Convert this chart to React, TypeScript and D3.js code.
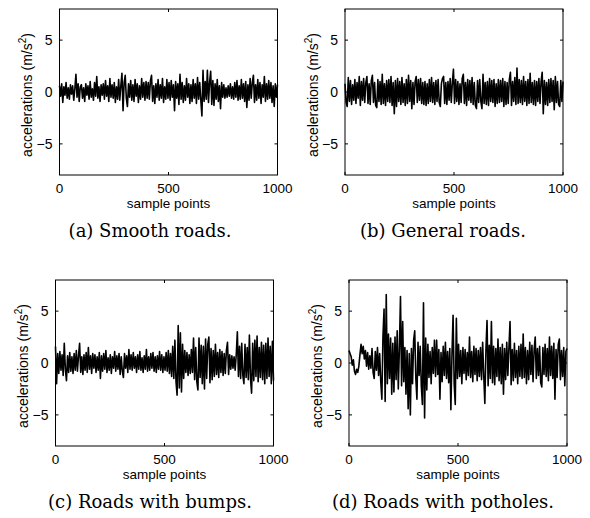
import React from "react";
import * as d3 from "d3";

// acceleration traces (every ~5th sample of 1000)
const smooth = [
  0.6, -0.4, 0.8, -1.0, 0.5, -0.3, 0.9, -0.6, 0.4, -0.7, 0.7, -0.2, 0.6, -0.8, 0.3, 1.7, -0.5, 0.8, -0.9, 0.5,
  0.7, -0.6, 0.4, -0.9, 0.8, -0.3, 0.6, -0.7, 1.0, -0.5, 0.3, -0.8, 0.9, -0.4, 1.5, -0.6, 0.5, -0.9, 0.7, -0.3,
  0.8, -0.7, 1.1, -0.4, 0.6, -0.9, 1.3, -0.5, 0.7, -0.6, 0.9, -1.0, 0.5, -0.7, 1.2, -0.8, 0.6, 1.8, -1.8, 0.9,
  1.6, -0.6, -1.4, 0.8, -0.5, 1.1, -0.8, 0.7, -0.9, 1.2, -0.4, 0.8, -1.0, 0.6, -0.7, 1.3, -0.5, 0.9, -0.8, 1.0,
  -0.6, 0.9, -0.7, 1.1, 1.6, -0.9, 0.6, -1.1, 0.8, -0.5, 1.2, -0.8, 0.7, -0.6, 1.3, -1.0, 0.5, -0.7, 1.2, -0.6,
  0.9, -0.8, 1.1, -0.5, 0.7, -1.8, 1.0, -0.6, 0.8, -1.2, 1.7, -0.7, 0.9, -1.0, 0.6, -0.8, 1.3, -0.5, 0.8, -1.1,
  0.7, -0.9, 1.2, -0.6, 0.8, -1.1, 1.4, -0.7, 0.9, -0.8, -2.3, 2.1, -0.9, 1.0, -0.7, 2.1, -1.0, 0.9, 2.0, -1.2,
  1.1, -1.3, 0.8, -0.7, 1.2, -0.9, 0.6, -1.6, 0.9, -0.5, 0.7, -0.6, 0.4, -0.5, 0.6, -0.4, 0.8, -0.6, 0.5, -0.7,
  0.9, -0.5, 1.1, -0.8, 0.6, -0.7, 1.2, -0.6, 0.8, -0.9, 1.0, -1.5, 0.7, -0.8, 1.3, -0.6, 0.9, 1.6, -1.0, 0.7,
  -0.8, 1.2, -0.6, 0.9, -1.1, 0.7, -0.5, 1.5, -0.9, 0.8, -0.7, 1.1, -0.6, 0.9, -1.0, 0.6, -1.4, 0.8, -0.5, 0.7,
];

const general = [
  0.8, -1.0, -1.4, 1.4, -0.9, 1.1, -1.2, 0.7, -0.8, 1.2, -1.1, 0.9, -0.6, 1.5, -1.3, 1.0, -0.8, 1.3, -1.0, 0.9,
  1.5, -1.1, 0.8, -1.2, 1.1, 1.6, -1.0, 0.9, -1.3, -1.5, 1.2, -0.9, 1.0, -1.2, 1.7, -1.1, 0.8, -1.3, 1.1, -0.9,
  1.2, -1.0, 1.5, -1.3, 0.9, -2.1, 1.1, -1.4, 1.3, -0.9, 1.0, -1.2, 1.4, -1.0, 0.8, -1.3, 1.2, -1.1, 1.6, -0.9,
  1.1, -1.6, 0.9, -1.2, 1.0, 1.5, -1.0, 1.2, -0.8, 1.3, -1.1, 0.9, -1.2, 1.0, -1.3, 0.8, -1.1, 1.2, -0.9, 1.4,
  -1.0, 0.9, -1.2, 1.1, -0.9, 1.2, -1.0, -1.4, 0.8, 1.3, 1.5, -1.1, 0.9, -1.2, 1.0, -0.8, 1.3, -1.0, 0.9, 2.2,
  -1.1, 1.2, -0.9, 1.0, -1.2, 0.8, -1.0, 1.3, 1.7, -1.1, 0.9, -1.3, 1.2, -0.8, 1.1, -1.0, 1.4, -1.2, 0.9, -1.3,
  -1.6, 1.1, -1.0, 1.2, -0.9, -1.6, 1.7, -1.1, 0.9, -1.2, 1.0, -1.3, 1.3, -0.9, 1.1, -1.0, 1.2, -1.4, 0.8, -1.1,
  1.2, -1.0, 1.1, -0.9, 1.3, -1.4, 1.0, -1.2, 0.9, -1.1, 1.2, 1.9, -1.3, 1.0, -0.9, 1.4, -1.2, 2.3, -1.1, 1.2,
  -1.0, 1.1, -1.2, 1.5, -0.9, 1.0, -1.3, 1.2, -1.1, 1.8, -1.0, 0.9, -1.2, 1.1, -1.3, 1.0, -0.9, 1.3, -1.1, 1.0,
  1.9, -2.1, 1.1, -1.2, 0.9, -1.3, 1.2, -1.0, 1.3, -0.9, 1.1, -1.7, 1.5, -1.0, 1.0, -1.2, -1.4, 1.1, -0.9, 1.0,
];

const bumps = [
  1.6, -2.0, 0.9, -1.0, 1.1, -0.7, 0.8, -1.2, 1.9, -0.6, -1.7, 0.7, -0.9, 1.0, -0.8, 0.6, -1.0, 0.9, -0.7, 1.2,
  -0.8, 0.7, 1.9, -0.9, 0.6, -1.1, 0.8, -0.7, 1.0, -0.9, 1.5, -0.6, 0.7, -1.0, 0.9, -0.5, 0.8, -0.9, 0.6, -0.7,
  1.0, -1.5, 0.7, -0.8, 0.9, -0.6, 1.2, -0.9, 0.5, -0.7, 0.8, -1.0, 0.6, -0.5, 1.1, -0.8, 0.7, -0.6, 0.9, -1.1,
  0.6, -0.8, -1.4, 0.9, -0.5, 0.7, -0.9, 1.3, -0.6, 0.8, -0.7, 1.0, -0.5, 0.6, -0.9, 0.8, -0.6, 1.1, -0.7, 0.5,
  -0.9, 0.7, -0.6, 1.3, -0.8, 0.6, -0.7, 0.9, -0.5, 1.0, -0.8, 0.6, -0.9, 0.7, -0.6, 1.1, -0.7, 0.8, -0.9, 0.6,
  -0.7, 1.0, -0.8, 1.2, -1.0, 0.9, -1.3, 1.6, -1.5, 2.2, -1.8, -3.1, 3.6, -2.4, 2.9, -2.8, 1.8, -1.5, 1.2, -0.9,
  1.0, -1.2, 0.8, -1.0, 1.3, -0.9, 2.4, -1.6, 1.5, -1.8, -2.6, 2.4, -1.4, 1.7, -2.0, 1.6, -2.5, 2.3, -1.5, 1.8,
  2.5, -1.9, 1.4, -1.6, 1.2, -1.3, 1.8, -1.1, 1.0, -1.4, 1.3, -0.9, 1.1, -1.2, 0.9, -1.0, 1.2, 2.0, -1.1, 0.8,
  -0.6, 0.7, -0.5, 0.6, -0.7, 0.8, 3.0, -1.3, 1.6, -1.5, 1.9, -1.2, -2.0, 1.8, -1.4, 1.5, -1.6, 2.7, -1.5, -2.9,
  1.9, -1.7, 2.2, -1.3, 2.6, -1.8, 1.5, -1.4, 2.0, -1.6, 1.7, -2.0, 1.9, -1.5, 2.4, -1.3, 1.6, -2.0, 2.1, -1.7,
];

const potholes = [
  1.2, 0.9, 0.6, -0.2, 0.3, -0.8, -1.1, -0.6, -0.9, -0.3, 0.8, 1.8, 0.9, 1.6, 0.4, 1.2, -0.3, 1.0, -0.6, 0.7,
  -0.5, 1.4, -0.9, -1.5, 1.1, -0.7, 1.5, -1.2, 0.9, -1.8, -3.5, 2.6, 5.2, -3.7, 6.6, -2.0, 2.8, -1.5, 2.4, -3.0,
  1.9, -2.8, 2.5, -1.6, 3.1, -2.5, 1.4, 6.4, -2.2, 4.0, -1.8, 1.5, -3.0, 1.2, -4.4, 0.9, -5.0, 1.4, -2.0, 2.2,
  3.1, -1.5, -3.5, 2.0, -1.2, 1.6, -2.2, -4.0, 5.8, -5.3, 2.4, -2.6, 1.8, -1.4, 1.1, -2.0, 1.5, -1.0, 2.2, -1.3,
  2.2, -1.1, 1.3, -3.5, 1.0, -1.8, 1.6, -1.2, 2.0, -1.5, 1.1, -1.9, 1.4, -4.5, 0.8, 4.6, -2.0, -4.0, 4.3, -1.5,
  1.8, -1.3, 1.2, -2.0, 1.5, -1.0, 1.3, -1.6, 1.0, -1.2, 2.5, -1.4, 1.1, -1.8, 1.6, -1.1, 1.4, -1.7, 1.2, -1.3,
  1.5, -1.6, 2.0, -1.2, -3.9, 1.3, 4.1, -2.2, 1.7, -1.5, 4.0, -1.9, 1.6, -2.1, 1.4, -1.3, 2.3, -1.7, 1.5, -2.0,
  1.8, -3.0, 1.4, -1.6, 2.0, -1.2, 1.5, 4.0, -2.1, 1.3, -1.7, 1.9, -1.4, 1.2, -2.0, 1.6, -1.3, 1.8, -1.5, 2.8,
  -1.4, 1.5, -2.0, 1.2, -1.6, 2.0, -1.1, 1.7, -1.8, 1.3, 2.5, -1.5, 1.4, -1.2, 1.6, -1.9, -2.3, 1.5, -1.1, 1.8,
  -1.3, 1.4, -1.7, 2.5, -1.2, 1.6, -1.5, 1.9, -3.5, 1.3, -1.4, 1.8, 2.3, -1.6, 1.2, -1.3, 1.5, -2.2, 1.1, 1.4,
];

const captions = [
  "(a) Smooth roads.",
  "(b) General roads.",
  "(c) Roads with bumps.",
  "(d) Roads with potholes.",
];
const xTicks = [0, 500, 1000];
const yTicks = [-5, 0, 5];
const xDomain = [0, 1000];
const yDomain = [-8, 8];

// layout of the 2x2 grid
const layout = [
  { left: 59.5, top: 9, capX: 150 },
  { left: 345, top: 9, capX: 443 },
  { left: 55.5, top: 280, capX: 150 },
  { left: 349, top: 280, capX: 443 },
];
const plotW = 218;
const plotH = 166;
const sans = "'Liberation Sans', Arial, Helvetica, sans-serif";
const serif = "'DejaVu Serif', serif";

function Panel({ data, caption, left, top, capX }: any) {
  const x = d3.scaleLinear().domain(xDomain).range([left, left + plotW]);
  const y = d3.scaleLinear().domain(yDomain).range([top + plotH, top]);
  const n = data.length;
  const line = d3
    .line<number>()
    .x((d, i) => x((i * 1000) / (n - 1)))
    .y((d) => y(d));
  const bottom = top + plotH;
  const right = left + plotW;

  return (
    <g>
      <path
        d={line(data) || ""}
        fill="none"
        stroke="#000"
        strokeWidth={1.6}
        strokeLinejoin="round"
      />
      <rect
        x={left}
        y={top}
        width={plotW}
        height={plotH}
        fill="none"
        stroke="#000"
        strokeWidth={1}
      />
      {/* ticks point inwards, on all four sides */}
      {yTicks.map((t) => (
        <g key={"y" + t}>
          <line x1={left} x2={left + 3} y1={y(t)} y2={y(t)} stroke="#000" />
          <line x1={right} x2={right - 3} y1={y(t)} y2={y(t)} stroke="#000" />
          <text
            x={left - 7}
            y={y(t) + 5}
            textAnchor="end"
            fontFamily={sans}
            fontSize={14}
          >
            {t < 0 ? "\u2212" + Math.abs(t) : t}
          </text>
        </g>
      ))}
      {xTicks.map((t) => (
        <g key={"x" + t}>
          <line x1={x(t)} x2={x(t)} y1={bottom} y2={bottom - 3} stroke="#000" />
          <line x1={x(t)} x2={x(t)} y1={top} y2={top + 3} stroke="#000" />
          <text
            x={x(t)}
            y={bottom + 17.5}
            textAnchor="middle"
            fontFamily={sans}
            fontSize={13.5}
          >
            {t}
          </text>
        </g>
      ))}
      <text
        x={(left + right) / 2}
        y={bottom + 32.5}
        textAnchor="middle"
        fontFamily={sans}
        fontSize={13.5}
      >
        sample points
      </text>
      <text
        transform={`translate(${left - 27.5}, ${top + plotH / 2 + 3}) rotate(-90)`}
        textAnchor="middle"
        fontFamily={sans}
        fontSize={14}
      >
        accelerations (m/s
        <tspan fontSize={10} dy={-6}>
          2
        </tspan>
        <tspan dy={6}>)</tspan>
      </text>
      <text
        x={capX}
        y={top + 227.5}
        textAnchor="middle"
        fontFamily={serif}
        fontSize={18}
      >
        {caption}
      </text>
    </g>
  );
}

export default function App() {
  const series = [smooth, general, bumps, potholes];
  return (
    <svg
      width={590}
      height={518}
      style={{ position: "absolute", left: 0, top: 0, background: "#fff" }}
    >
      {series.map((s, i) => (
        <Panel key={i} data={s} caption={captions[i]} {...layout[i]} />
      ))}
    </svg>
  );
}
